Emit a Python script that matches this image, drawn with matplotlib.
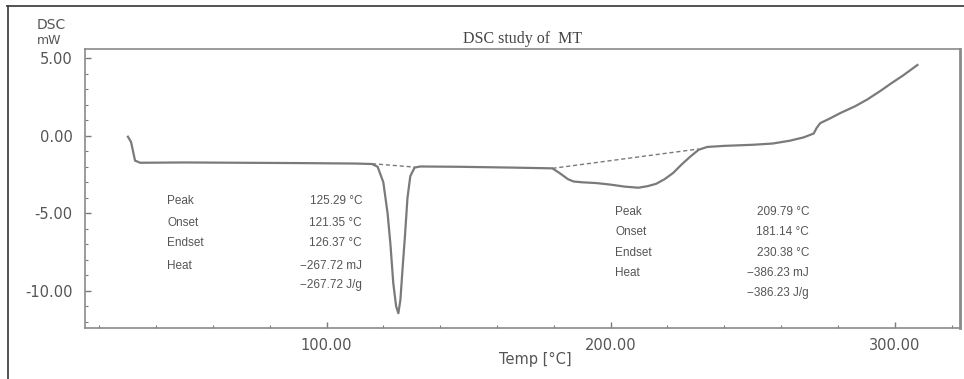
import matplotlib
matplotlib.use("Agg")
import matplotlib.pyplot as plt
from matplotlib.ticker import MultipleLocator, FormatStrFormatter
from matplotlib.lines import Line2D

# DSC trace of MT (temperature in deg C, heat flow in mW)
temp = [30.1, 31.2, 32.6, 34.4, 50, 70, 90, 110, 116, 118, 120, 121.5, 122.5,
        123.5, 124.5, 125.29, 126, 126.8, 127.6, 128.5, 129.5, 131, 133, 147,
        165, 179.5, 182, 185, 187, 190, 195, 200, 205, 209.79, 213, 216, 219,
        222, 225, 228, 231, 234, 240, 250, 257, 263, 268, 271.5, 272.5, 273.8,
        277, 281, 286, 290.4, 295, 298.5, 303, 308]
heat_flow = [-0.06, -0.4, -1.6, -1.74, -1.72, -1.74, -1.76, -1.79, -1.82, -2.0,
             -3.0, -5.0, -7.0, -9.5, -11.0, -11.45, -10.6, -8.5, -6.5, -4.0,
             -2.6, -2.05, -1.98, -2.0, -2.05, -2.1, -2.4, -2.8, -2.95, -3.0,
             -3.05, -3.15, -3.28, -3.35, -3.25, -3.1, -2.8, -2.4, -1.85, -1.35,
             -0.9, -0.72, -0.65, -0.58, -0.5, -0.32, -0.1, 0.15, 0.5, 0.82, 1.1,
             1.48, 1.9, 2.35, 2.9, 3.35, 3.9, 4.57]

# integration baselines under the two endotherms
base1_t = [116, 131]
base1_y = [-1.8, -2.02]
base2_t = [179.5, 231]
base2_y = [-2.1, -0.85]

labels = ["Peak", "Onset", "Endset", "Heat", ""]
peak1_vals = ["125.29 °C", "121.35 °C", "126.37 °C", "−267.72 mJ", "−267.72 J/g"]
peak2_vals = ["209.79 °C", "181.14 °C", "230.38 °C", "−386.23 mJ", "−386.23 J/g"]

grey = "#555555"
line_grey = "#7a7a7a"

fig = plt.figure(figsize=(9.64, 3.79), dpi=100)
ax = fig.add_axes([0.0882, 0.1346, 0.9077, 0.7361])

ax.plot(temp, heat_flow, color=line_grey, linewidth=1.6, solid_joinstyle="round")
ax.plot(base1_t, base1_y, color=line_grey, linewidth=1.0, linestyle=(0, (3, 2)))
ax.plot(base2_t, base2_y, color=line_grey, linewidth=1.0, linestyle=(0, (3, 2)))

ax.set_xlim(15, 323)
ax.set_ylim(-12.4, 5.6)

ax.xaxis.set_major_locator(MultipleLocator(100))
ax.xaxis.set_minor_locator(MultipleLocator(20))
ax.yaxis.set_major_locator(MultipleLocator(5))
ax.yaxis.set_minor_locator(MultipleLocator(1))
ax.xaxis.set_major_formatter(FormatStrFormatter("%.2f"))
ax.yaxis.set_major_formatter(FormatStrFormatter("%.2f"))

ax.tick_params(which="both", direction="in", colors=line_grey,
               labelcolor=grey, labelsize=10.5)
ax.tick_params(which="major", length=4, width=1)
ax.tick_params(which="minor", length=2.5, width=0.8)
ax.tick_params(axis="y", pad=9)
ax.tick_params(axis="x", pad=7)

for s in ax.spines.values():
    s.set_color("#8a8a8a")
    s.set_linewidth(1.2)
ax.spines["right"].set_linewidth(2.0)

ax.set_xlabel("Temp [°C]", fontsize=10.5, color=grey)
ax.xaxis.set_label_coords(0.515, -0.085)

ax.set_title("DSC study of  MT", fontsize=11.5, family="Liberation Serif",
             color="#444444", pad=4)

fig.text(0.0384, 0.934, "DSC", fontsize=10, color=grey, va="center")
fig.text(0.0384, 0.894, "mW", fontsize=9, color=grey, va="center")

# result tables for both peaks
left_rows = [0.455, 0.376, 0.305, 0.222, 0.154]
right_rows = [0.416, 0.344, 0.269, 0.197, 0.125]
for lab, v, y in zip(labels, peak1_vals, left_rows):
    ax.text(0.094, y, lab, transform=ax.transAxes, fontsize=8.5, color=grey,
            family="Liberation Sans", va="center")
    ax.text(0.3166, y, v, transform=ax.transAxes, fontsize=8.5, color=grey,
            family="Liberation Sans", va="center", ha="right")
for lab, v, y in zip(labels, peak2_vals, right_rows):
    ax.text(0.6057, y, lab, transform=ax.transAxes, fontsize=8.5, color=grey,
            family="Liberation Sans", va="center")
    ax.text(0.8274, y, v, transform=ax.transAxes, fontsize=8.5, color=grey,
            family="Liberation Sans", va="center", ha="right")

# frame around the whole panel (left and top edges)
fig.add_artist(Line2D([7.5 / 964, 7.5 / 964], [0, 1 - 6 / 379],
                      transform=fig.transFigure, color="#444444", linewidth=1.3))
fig.add_artist(Line2D([7 / 964, 1], [1 - 6 / 379, 1 - 6 / 379],
                      transform=fig.transFigure, color="#444444", linewidth=1.3))

fig.savefig("out.png", dpi=100)
